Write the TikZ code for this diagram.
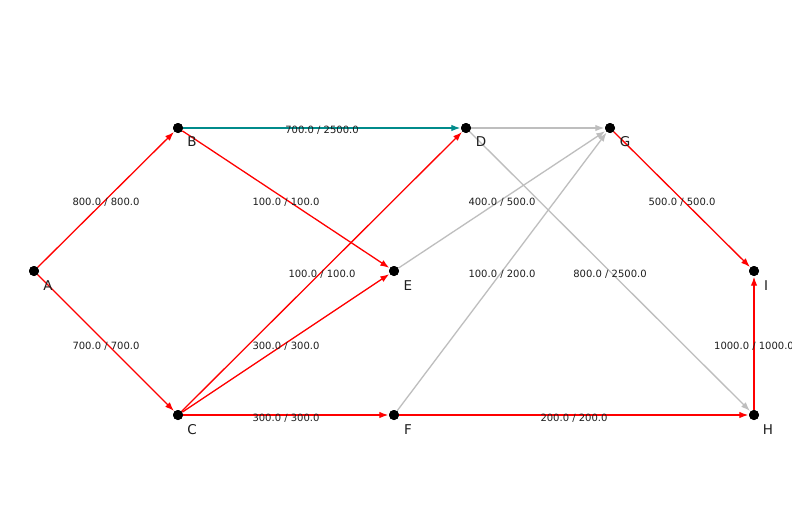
\documentclass[tikz,border=0pt]{standalone}
\usepackage{fontspec}
\setmainfont{DejaVu Sans}
\usetikzlibrary{arrows.meta}
\definecolor{redE}{RGB}{255,0,0}
\definecolor{tealE}{RGB}{0,139,139}
\definecolor{grayE}{RGB}{190,190,190}
\definecolor{txt}{RGB}{30,30,30}
\begin{document}
\begin{tikzpicture}[x=1pt,y=-1pt,
  vtx/.style={circle,fill=black,inner sep=0pt,minimum size=10pt},
  vlab/.style={font=\fontsize{13.5}{14}\selectfont,text=txt,inner sep=0pt},
  elab/.style={font=\fontsize{10}{11}\selectfont,text=txt,inner sep=0pt},
  edge/.style={line width=1.3pt,-{Latex[length=9pt,width=6.5pt]},shorten >=0.5pt},
  redge/.style={edge,draw=redE},
  tedge/.style={edge,draw=tealE},
  gedge/.style={edge,draw=grayE}]
\useasboundingbox[clip] (0,0) rectangle (792,519);
\fill[white] (0,0) rectangle (792,519);
% vertices
\node[vtx] (A) at (34,271) {};
\node[vtx] (B) at (178,128) {};
\node[vtx] (C) at (178,415) {};
\node[vtx] (D) at (466,128) {};
\node[vtx] (E) at (394,271) {};
\node[vtx] (F) at (394,415) {};
\node[vtx] (G) at (610,128) {};
\node[vtx] (H) at (754,415) {};
\node[vtx] (I) at (754,271) {};
% edges
\begin{scope}[on background layer/.style={}]
\draw[redge] (A) -- (B);
\draw[redge] (A) -- (C);
\draw[tedge] (B) -- (D);
\draw[redge] (B) -- (E);
\draw[redge] (C) -- (D);
\draw[redge] (C) -- (E);
\draw[redge] (C) -- (F);
\draw[gedge] (D) -- (G);
\draw[gedge] (D) -- (H);
\draw[gedge] (E) -- (G);
\draw[gedge] (F) -- (G);
\draw[redge] (F) -- (H);
\draw[redge] (G) -- (I);
\draw[redge] (H) -- (I);
\end{scope}
% redraw vertices on top
\foreach \n in {A,B,C,D,E,F,G,H,I} {\fill[black] (\n) circle (5pt);}
% vertex labels
\node[vlab] (lA) at (48,286) {A};
\node[vlab] (lB) at (192,142) {B};
\node[vlab] (lC) at (192,430) {C};
\node[vlab] (lD) at (481,142) {D};
\node[vlab] (lE) at (408,286) {E};
\node[vlab] (lF) at (408,430) {F};
\node[vlab] (lG) at (625,142) {G};
\node[vlab] (lH) at (768,430) {H};
\node[vlab] (lI) at (766,286) {I};
% edge labels
\node[elab] (eAB) at (106,202) {800.0 / 800.0};
\node[elab] (eAC) at (106,346) {700.0 / 700.0};
\node[elab] (eBD) at (322,130) {700.0 / 2500.0};
\node[elab] (eBE) at (286,202) {100.0 / 100.0};
\node[elab] (eCD) at (322,274) {100.0 / 100.0};
\node[elab] (eCE) at (286,346) {300.0 / 300.0};
\node[elab] (eCF) at (286,418) {300.0 / 300.0};
\node[elab] (eDH) at (610,274) {800.0 / 2500.0};
\node[elab] (eEG) at (502,202) {400.0 / 500.0};
\node[elab] (eFG) at (502,274) {100.0 / 200.0};
\node[elab] (eFH) at (574,418) {200.0 / 200.0};
\node[elab] (eGI) at (682,202) {500.0 / 500.0};
\node[elab] (eHI) at (754,346) {1000.0 / 1000.0};
\end{tikzpicture}
\end{document}
